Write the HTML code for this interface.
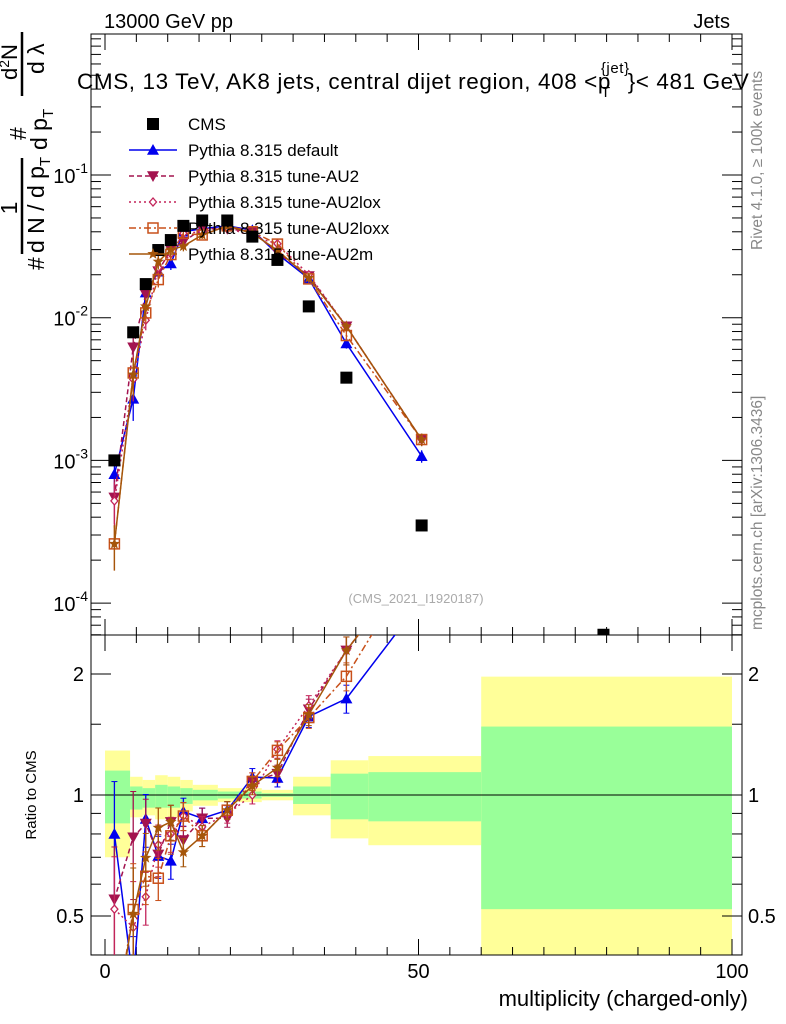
<!DOCTYPE html>
<html><head><meta charset="utf-8"><style>
html,body{margin:0;background:#fff;overflow:hidden;width:786px;height:1024px}
svg{display:block;font-family:"Liberation Sans",sans-serif}
</style></head><body>
<svg id="chart" width="786" height="1024" viewBox="0 0 786 1024">
<defs>
<clipPath id="cm"><rect x="91" y="34" width="651" height="601"/></clipPath>
<clipPath id="cr"><rect x="91" y="635" width="651" height="320"/></clipPath>
</defs>
<g id="bands" clip-path="url(#cr)"></g>
<g id="grid"></g>
<rect x="91" y="34" width="651" height="601" fill="none" stroke="#000"/>
<rect x="91" y="635" width="651" height="320" fill="none" stroke="#000"/>
<line x1="91" x2="742" y1="795" y2="795" stroke="#000"/>
<g id="mainmarks" clip-path="url(#cm)"></g>
<g id="ratiomarks" clip-path="url(#cr)"></g>
<text x="104" y="28" font-size="20">13000 GeV pp</text>
<text x="730" y="28" font-size="20" text-anchor="end">Jets</text>
<text x="77" y="89" font-size="22.5" letter-spacing="0.6">CMS, 13 TeV, AK8 jets, central dijet region, 408 &lt;p<tspan font-size="15" dx="-10" dy="8">T</tspan><tspan font-size="15" dx="-10" dy="-24">{jet}</tspan><tspan dy="16" dx="-2">}&lt; 481 GeV</tspan></text>
<text x="416" y="603" font-size="13" fill="#aaa" text-anchor="middle">(CMS_2021_I1920187)</text>
<text transform="translate(762,250) rotate(-90)" font-size="15.5" fill="#888">Rivet 4.1.0, ≥ 100k events</text>
<text transform="translate(762,630) rotate(-90)" font-size="15.5" fill="#888">mcplots.cern.ch [arXiv:1306.3436]</text>
<g transform="translate(0,270) rotate(-90)">
 <text x="0" y="44" font-size="23">#</text>
 <line x1="16" x2="112" y1="22" y2="22" stroke="#000" stroke-width="2.5"/>
 <text x="62" y="17" font-size="23" text-anchor="middle">1</text>
 <text x="17" y="44" font-size="23">d N / d p<tspan font-size="15" dy="6">T</tspan></text>
 <text x="130" y="26" font-size="23">#</text>
 <text x="120" y="47" font-size="23">d p<tspan font-size="15" dy="6">T</tspan></text>
 <line x1="174" x2="238" y1="22" y2="22" stroke="#000" stroke-width="2.5"/>
 <text x="190" y="17" font-size="22">d<tspan font-size="14" dy="-8">2</tspan><tspan dy="8">N</tspan></text>
 <text x="196" y="44" font-size="23">d λ</text>
</g>
<text transform="translate(36,795) rotate(-90)" font-size="15" text-anchor="middle">Ratio to CMS</text>
<text x="748" y="1006" font-size="22" text-anchor="end">multiplicity (charged-only)</text>
<g id="legend"></g>
</svg>
<script>
const NS="http://www.w3.org/2000/svg";
const xCenters=[1.5,4.5,6.5,8.5,10.5,12.5,15.5,19.5,23.5,27.5,32.5,38.5,50.5,79.5];
const cmsValues=[1.0e-3,7.9e-3,0.0172,0.0298,0.035,0.044,0.048,0.048,0.037,0.0254,0.012,0.0038,3.5e-4,6e-5];
const defaultValues=[8.0e-4,2.7e-3,0.015,0.021,0.024,0.040,0.042,0.044,0.041,0.028,0.0188,0.0066,1.07e-3];
const au2Values=[5.5e-4,6.2e-3,0.0146,0.0212,0.030,0.034,0.042,0.042,0.040,0.0287,0.0196,0.0087,1.4e-3];
const au2loxValues=[5.2e-4,3.7e-3,9.6e-3,0.0224,0.028,0.039,0.040,0.043,0.037,0.033,0.020,0.0087,1.4e-3];
const au2loxxValues=[2.6e-4,4.1e-3,0.0108,0.0185,0.0277,0.039,0.038,0.044,0.040,0.0328,0.0187,0.0075,1.4e-3];
const au2mValues=[2.6e-4,4.0e-3,0.012,0.0247,0.030,0.0317,0.038,0.044,0.039,0.0297,0.019,0.0087,1.4e-3];
const relErrors=[0.35,0.3,0.15,0.12,0.1,0.08,0.06,0.05,0.05,0.05,0.06,0.08,0.1];
const binEdges=[0,4,6,8,10,12,14,18,25,30,36,42,60,100];
const yellowUp=[1.29,1.11,1.09,1.12,1.11,1.09,1.06,1.04,1.03,1.11,1.22,1.25,1.97];
const yellowDown=[0.70,0.88,0.89,0.87,0.88,0.91,0.94,0.96,0.97,0.89,0.78,0.75,0.3];
const greenUp=[1.15,1.05,1.04,1.06,1.05,1.04,1.03,1.02,1.01,1.05,1.13,1.14,1.48];
const greenDown=[0.85,0.92,0.93,0.93,0.93,0.95,0.97,0.98,0.99,0.95,0.87,0.86,0.52];
const yTickExps=[-1,-2,-3,-4];
const ratioTicks=["2","1","0.5"];
const xTicks=["0","50","100"];

const X=v=>105+v*6.27;
const Y=v=>175+(-1-Math.log10(v))*142.7;
const R=v=>795-121*Math.log2(v);
function mk(t,a,p){const e=document.createElementNS(NS,t);for(const k in a)e.setAttribute(k,a[k]);(p||document.getElementById('chart')).appendChild(e);return e;}

const bands=document.getElementById('bands');
binEdges.slice(0,-1).forEach((e,i)=>{
 const r1=mk('rect',{x:X(e),width:X(binEdges[i+1])-X(e),y:R(yellowUp[i]),height:R(yellowDown[i])-R(yellowUp[i]),fill:'#ffff99'},bands);
 
 
 const r2=mk('rect',{x:X(e),width:X(binEdges[i+1])-X(e),y:R(greenUp[i]),height:R(greenDown[i])-R(greenUp[i]),fill:'#99ff99'},bands);
 
 
});

const g=document.getElementById('grid');
function tk(x1,y1,x2,y2){mk('line',{x1,y1,x2,y2,stroke:'#000'},g);}
for(let v=0;v<=100;v+=5){const L=v%50==0?16:8;const x=X(v);
 tk(x,34,x,34+L);tk(x,635,x,635-L);tk(x,635,x,635+L);tk(x,955,x,955-L);}
for(let e=0;e>=-5;e--){for(let m=1;m<10;m++){const v=m*Math.pow(10,e-1);const y=Y(v);if(y<34||y>635)continue;const L=m==1?20:10;tk(91,y,91+L,y);tk(742,y,742-L,y);}}
[0.4,0.5,0.6,0.7,0.8,0.9,1,1.5,2,2.5].forEach(v=>{const y=R(v);if(y<635||y>955)return;const L=(v==0.5||v==1||v==2)?20:10;tk(91,y,91+L,y);tk(742,y,742-L,y);});
yTickExps.forEach(e=>{const t=mk('text',{x:88,y:Y(Math.pow(10,e))+8,'font-size':20,'text-anchor':'end'});t.innerHTML='10<tspan font-size="14" dy="-10">'+e+'</tspan>';
 
 });
ratioTicks.forEach(s=>{[[84,'end'],[748,'start']].forEach(([x,a])=>{const t=mk('text',{x,y:R(+s)+7,'font-size':20,'text-anchor':a});t.textContent=s;
 
 });});
xTicks.forEach(s=>{const t=mk('text',{x:X(+s),y:978,'font-size':20,'text-anchor':'middle'});t.textContent=s;
 
 });

function marker(kind,x,y,c,p){
 const s=6;
 if(kind=='sq')return mk('rect',{x:x-6,y:y-6,width:12,height:12,fill:'#000'},p);
 if(kind=='tu')return mk('polygon',{points:`${x},${y-s} ${x-s},${y+s*0.8} ${x+s},${y+s*0.8}`,fill:c},p);
 if(kind=='td')return mk('polygon',{points:`${x},${y+s} ${x-s},${y-s*0.8} ${x+s},${y-s*0.8}`,fill:c},p);
 if(kind=='di')return mk('polygon',{points:`${x},${y-4} ${x-3.5},${y} ${x},${y+4} ${x+3.5},${y}`,fill:'#fff',stroke:c,'stroke-width':1.3},p);
 if(kind=='os')return mk('rect',{x:x-5,y:y-5,width:10,height:10,fill:'none',stroke:c,'stroke-width':1.5},p);
 if(kind=='st'){let pts=[];for(let i=0;i<10;i++){const r=i%2?2.5:6;const a=-Math.PI/2+i*Math.PI/5;pts.push((x+r*Math.cos(a)).toFixed(1)+','+(y+r*Math.sin(a)).toFixed(1));}return mk('polygon',{points:pts.join(' '),fill:c},p);}
}
const series=[
 {name:'Pythia 8.315 default',vals:defaultValues,c:'#0000ee',dash:'',m:'tu',id:'default'},
 {name:'Pythia 8.315 tune-AU2',vals:au2Values,c:'#a3134f',dash:'5,3',m:'td',id:'au2'},
 {name:'Pythia 8.315 tune-AU2lox',vals:au2loxValues,c:'#c3245a',dash:'2,3',m:'di',id:'au2lox'},
 {name:'Pythia 8.315 tune-AU2loxx',vals:au2loxxValues,c:'#c8501a',dash:'7,3,2,3',m:'os',id:'au2loxx'},
 {name:'Pythia 8.315 tune-AU2m',vals:au2mValues,c:'#a5560a',dash:'',m:'st',id:'au2m'}
];
const mm=document.getElementById('mainmarks'),rm=document.getElementById('ratiomarks');
series.forEach(s=>{
 const gm=mk('g',{},mm);
 const gr=mk('g',{},rm);
 const pm=s.vals.map((v,i)=>X(xCenters[i])+','+Y(v)).join(' ');
 const pr=s.vals.map((v,i)=>X(xCenters[i])+','+R(v/cmsValues[i])).join(' ');
 mk('polyline',{points:pm,fill:'none',stroke:s.c,'stroke-width':1.5,'stroke-dasharray':s.dash},gm);
 mk('polyline',{points:pr,fill:'none',stroke:s.c,'stroke-width':1.5,'stroke-dasharray':s.dash},gr);
 s.vals.forEach((v,i)=>{const x=X(xCenters[i]),e=relErrors[i];
  mk('line',{x1:x,x2:x,y1:Y(v*(1+e)),y2:Y(v*(1-e)),stroke:s.c,'stroke-width':1.3},gm);
  const r=v/cmsValues[i];
  mk('line',{x1:x,x2:x,y1:R(r*(1+e)),y2:R(r*(1-e)),stroke:s.c,'stroke-width':1.3},gr);
  [R(r*(1+e)),R(r*(1-e))].forEach(yy=>mk('line',{x1:x-3,x2:x+3,y1:yy,y2:yy,stroke:s.c},gr));
  const a=marker(s.m,x,Y(v),s.c,gm);
  const b=marker(s.m,x,R(r),s.c,gr);
 });
});
const gc=mk('g',{},mm);
cmsValues.forEach((v,i)=>{const p=marker('sq',X(xCenters[i]),Y(v),'#000',gc);
 
 });

const lg=document.getElementById('legend');
const le=[{name:'CMS',m:'sq',c:'#000',dash:null}].concat(series);
le.forEach((s,i)=>{const y=124+i*26;const gg=mk('g',{},lg);
 
 
 if(s.dash!==null)mk('line',{x1:129,x2:177,y1:y,y2:y,stroke:s.c,'stroke-width':1.5,'stroke-dasharray':s.dash},gg);
 marker(s.m,153,y,s.c,gg);
 const t=mk('text',{x:188,y:y+6,'font-size':17},gg);t.textContent=s.name;});
</script>
</body></html>
